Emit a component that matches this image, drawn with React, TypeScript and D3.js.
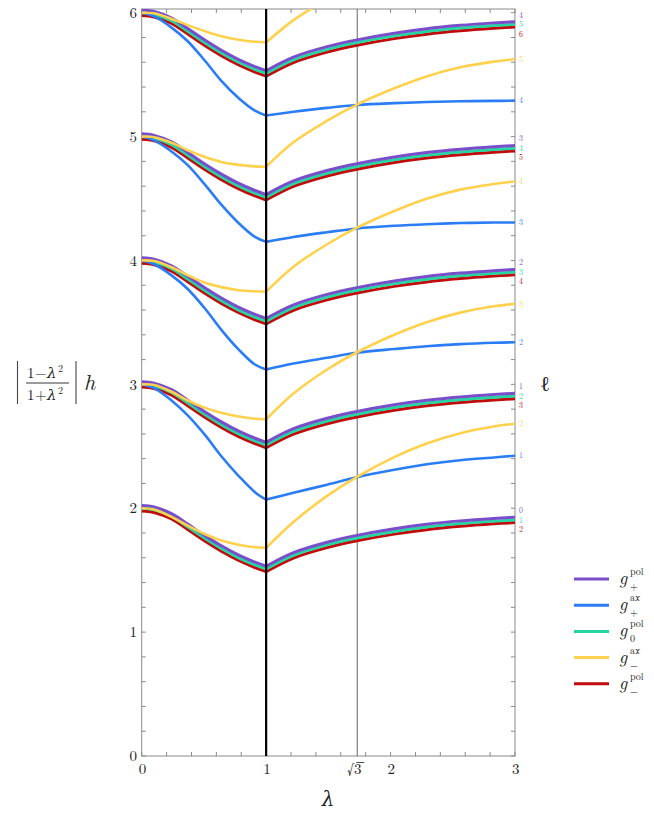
import * as d3 from 'd3'

// sample points in lambda (left branch 0..1, right branch 1..3)
const lamL = [0, 0.1, 0.24, 0.37, 0.51, 0.64, 0.78, 0.91, 1]
const lamR = [1, 1.22, 1.49, 1.73, 2.03, 2.29, 2.56, 2.83, 3]

// g_+^pol (purple), rows: n = 2..6
const gPlusPolL = [
  [2.022, 2.01, 1.957, 1.872, 1.777, 1.697, 1.622, 1.565, 1.532],
  [3.022, 3.01, 2.957, 2.872, 2.777, 2.697, 2.622, 2.565, 2.532],
  [4.022, 4.01, 3.957, 3.872, 3.777, 3.697, 3.622, 3.565, 3.532],
  [5.022, 5.01, 4.957, 4.872, 4.777, 4.697, 4.622, 4.565, 4.532],
  [6.022, 6.01, 5.957, 5.872, 5.777, 5.697, 5.622, 5.565, 5.532],
]
const gPlusPolR = [
  [1.532, 1.642, 1.726, 1.781, 1.835, 1.871, 1.898, 1.918, 1.928],
  [2.532, 2.642, 2.726, 2.781, 2.835, 2.871, 2.898, 2.918, 2.928],
  [3.532, 3.642, 3.726, 3.781, 3.835, 3.871, 3.898, 3.918, 3.928],
  [4.532, 4.642, 4.726, 4.781, 4.835, 4.871, 4.898, 4.918, 4.928],
  [5.532, 5.642, 5.726, 5.781, 5.835, 5.871, 5.898, 5.918, 5.928],
]

// g_0^pol (green)
const g0PolL = [
  [2.0, 1.988, 1.935, 1.85, 1.755, 1.675, 1.6, 1.543, 1.51],
  [3.0, 2.988, 2.935, 2.85, 2.755, 2.675, 2.6, 2.543, 2.51],
  [4.0, 3.988, 3.935, 3.85, 3.755, 3.675, 3.6, 3.543, 3.51],
  [5.0, 4.988, 4.935, 4.85, 4.755, 4.675, 4.6, 4.543, 4.51],
  [6.0, 5.988, 5.935, 5.85, 5.755, 5.675, 5.6, 5.543, 5.51],
]
const g0PolR = [
  [1.51, 1.62, 1.704, 1.759, 1.813, 1.849, 1.876, 1.896, 1.906],
  [2.51, 2.62, 2.704, 2.759, 2.813, 2.849, 2.876, 2.896, 2.906],
  [3.51, 3.62, 3.704, 3.759, 3.813, 3.849, 3.876, 3.896, 3.906],
  [4.51, 4.62, 4.704, 4.759, 4.813, 4.849, 4.876, 4.896, 4.906],
  [5.51, 5.62, 5.704, 5.759, 5.813, 5.849, 5.876, 5.896, 5.906],
]

// g_-^pol (red)
const gMinusPolL = [
  [1.978, 1.966, 1.913, 1.828, 1.733, 1.653, 1.578, 1.521, 1.488],
  [2.978, 2.966, 2.913, 2.828, 2.733, 2.653, 2.578, 2.521, 2.488],
  [3.978, 3.966, 3.913, 3.828, 3.733, 3.653, 3.578, 3.521, 3.488],
  [4.978, 4.966, 4.913, 4.828, 4.733, 4.653, 4.578, 4.521, 4.488],
  [5.978, 5.966, 5.913, 5.828, 5.733, 5.653, 5.578, 5.521, 5.488],
]
const gMinusPolR = [
  [1.488, 1.598, 1.682, 1.737, 1.791, 1.827, 1.854, 1.874, 1.884],
  [2.488, 2.598, 2.682, 2.737, 2.791, 2.827, 2.854, 2.874, 2.884],
  [3.488, 3.598, 3.682, 3.737, 3.791, 3.827, 3.854, 3.874, 3.884],
  [4.488, 4.598, 4.682, 4.737, 4.791, 4.827, 4.854, 4.874, 4.884],
  [5.488, 5.598, 5.682, 5.737, 5.791, 5.827, 5.854, 5.874, 5.884],
]

// g_+^ax (blue), rows: n = 3..6
const gPlusAxL = [
  [3.0, 2.97, 2.87, 2.75, 2.59, 2.42, 2.26, 2.13, 2.07],
  [4.0, 3.97, 3.88, 3.77, 3.61, 3.44, 3.28, 3.16, 3.12],
  [5.0, 4.97, 4.88, 4.77, 4.61, 4.45, 4.3, 4.19, 4.15],
  [6.0, 5.97, 5.88, 5.77, 5.61, 5.45, 5.31, 5.21, 5.17],
]
const gPlusAxR = [
  [2.07, 2.125, 2.19, 2.25, 2.31, 2.355, 2.388, 2.41, 2.424],
  [3.12, 3.168, 3.215, 3.255, 3.285, 3.308, 3.325, 3.336, 3.34],
  [4.15, 4.19, 4.228, 4.258, 4.28, 4.293, 4.302, 4.306, 4.307],
  [5.17, 5.2, 5.232, 5.255, 5.27, 5.279, 5.285, 5.288, 5.29],
]

// g_-^ax (yellow), rows: n = 2..6
const gMinusAxL = [
  [2.0, 1.99, 1.93, 1.86, 1.79, 1.74, 1.705, 1.685, 1.68],
  [3.0, 2.995, 2.94, 2.87, 2.81, 2.77, 2.74, 2.722, 2.717],
  [4.0, 3.995, 3.945, 3.88, 3.82, 3.785, 3.76, 3.751, 3.748],
  [5.0, 4.995, 4.95, 4.89, 4.835, 4.795, 4.772, 4.76, 4.757],
  [6.0, 5.995, 5.95, 5.9, 5.85, 5.81, 5.782, 5.765, 5.76],
]
const gMinusAxR = [
  [1.68, 1.889, 2.1, 2.254, 2.413, 2.522, 2.606, 2.66, 2.682],
  [2.717, 2.926, 3.12, 3.259, 3.4, 3.501, 3.579, 3.63, 3.65],
  [3.748, 3.95, 4.131, 4.265, 4.4, 4.499, 4.572, 4.618, 4.637],
  [4.757, 4.955, 5.128, 5.258, 5.39, 5.486, 5.559, 5.605, 5.624],
  [5.76, 5.94, 6.11, 6.26],
]

// ell labels at the right edge
const purpleLabels = ['0', '1', '2', '3', '4']
const greenLabels = ['1', '2', '3', '4', '5']
const redLabels = ['2', '3', '4', '5', '6']
const blueLabels = ['1', '2', '3', '4']
const yellowLabels = ['2', '3', '4', '5', '']

const yTickLabels = [0, 1, 2, 3, 4, 5, 6]
const xTickLabels = [0, 1, 2, 3]

const C = {
  purple: '#7a4dcb',
  blue: '#2b7df5',
  green: '#25d6a2',
  yellow: '#ffd14d',
  red: '#c20b0b',
}

const legendItems = [
  { color: C.purple, sup: 'pol', sub: '+' },
  { color: C.blue, sup: 'ax', sub: '+' },
  { color: C.green, sup: 'pol', sub: '0' },
  { color: C.yellow, sup: 'ax', sub: '\u2212' },
  { color: C.red, sup: 'pol', sub: '\u2212' },
]

const serif = "'Latin Modern Roman', 'DejaVu Serif', 'Liberation Serif', serif"

export default function App() {
  const x = d3.scaleLinear().domain([0, 3]).range([141.7, 515])
  const y = d3.scaleLinear().domain([0, 6.03]).range([756, 9])
  const [x0, x1] = x.range()
  const [y0, y1] = y.range()

  const line = d3
    .line<[number, number]>()
    .x((d) => x(d[0]))
    .y((d) => y(d[1]))
    .curve(d3.curveCatmullRom.alpha(0.5))

  // left and right branch joined with a sharp corner at lambda = 1
  const branchPath = (left: number[], right: number[]) => {
    const a = line(left.map((v, i) => [lamL[i], v]))!
    const b = line(right.map((v, i) => [lamR[i], v]))!
    return a + b.replace(/^M/, 'L')
  }

  const yTicks = d3.range(0, 6.001, 0.2)
  const xTicks = d3.range(0, 3.001, 0.2)

  const polSets = [
    { L: gMinusPolL, R: gMinusPolR, color: C.red },
    { L: g0PolL, R: g0PolR, color: C.green },
    { L: gPlusPolL, R: gPlusPolR, color: C.purple },
  ]

  const endY = (arr: number[]) => y(arr[arr.length - 1])

  return (
    <svg
      width={654}
      height={814}
      style={{ position: 'absolute', left: 0, top: 0, background: '#fff' }}
      fontFamily={serif}
    >
      <defs>
        <clipPath id="plot">
          <rect x={x0} y={y1} width={x1 - x0} height={y0 - y1} />
        </clipPath>
      </defs>

      {/* frame */}
      <rect x={x0} y={y1} width={x1 - x0} height={y0 - y1} fill="none" stroke="#8a8a8a" strokeWidth={1} />
      {yTicks.map((t, i) => (
        <g key={'yt' + i} stroke="#8a8a8a" strokeWidth={1}>
          <line x1={x0} x2={x0 + 4} y1={y(t)} y2={y(t)} />
          <line x1={x1} x2={x1 - 4} y1={y(t)} y2={y(t)} />
        </g>
      ))}
      {xTicks.map((t, i) => (
        <g key={'xt' + i} stroke="#8a8a8a" strokeWidth={1}>
          <line x1={x(t)} x2={x(t)} y1={y0} y2={y0 - 4} />
          <line x1={x(t)} x2={x(t)} y1={y1} y2={y1 + 4} />
        </g>
      ))}

      {/* vertical guide at sqrt(3) */}
      <line x1={x(Math.sqrt(3))} x2={x(Math.sqrt(3))} y1={y1} y2={y0} stroke="#666" strokeWidth={1} />

      {/* curves */}
      <g clipPath="url(#plot)" fill="none" strokeLinejoin="miter">
        {polSets.map((s) =>
          s.L.map((row, i) => (
            <path key={s.color + i} d={branchPath(row, s.R[i])} stroke={s.color} strokeWidth={3} />
          ))
        )}
        {gPlusAxL.map((row, i) => (
          <path key={'b' + i} d={branchPath(row, gPlusAxR[i])} stroke={C.blue} strokeWidth={2.6} />
        ))}
        {gMinusAxL.map((row, i) => (
          <path key={'yl' + i} d={branchPath(row, gMinusAxR[i])} stroke={C.yellow} strokeWidth={2.6} />
        ))}
      </g>

      <line x1={x(1)} x2={x(1)} y1={y1} y2={y0} stroke="#000" strokeWidth={2.2} />

      {/* y tick labels */}
      {yTickLabels.map((t) => (
        <text key={'yl' + t} x={137} y={y(t)} dy="0.35em" textAnchor="end" fontSize={15} fill="#222">
          {t}
        </text>
      ))}
      {/* x tick labels */}
      {xTickLabels.map((t) => (
        <text key={'xl' + t} x={x(t) + 0.8} y={774} textAnchor="middle" fontSize={15} fill="#222">
          {t}
        </text>
      ))}
      <text x={x(Math.sqrt(3)) - 3} y={774} textAnchor="middle" fontSize={15} fill="#222">
        {'\u221A3'}
      </text>
      <line x1={x(Math.sqrt(3)) - 1} x2={x(Math.sqrt(3)) + 7} y1={762.5} y2={762.5} stroke="#222" strokeWidth={0.8} />

      {/* ell labels */}
      {g0PolR.map((row, i) => (
        <g key={'pl' + i} fontSize={7.8} textAnchor="start">
          <text x={519} y={endY(row) - 9.5} dy="0.35em" fill={C.purple}>{purpleLabels[i]}</text>
          <text x={519} y={endY(row)} dy="0.35em" fill={C.green}>{greenLabels[i]}</text>
          <text x={519} y={endY(row) + 9.5} dy="0.35em" fill={C.red}>{redLabels[i]}</text>
        </g>
      ))}
      {gPlusAxR.map((row, i) => (
        <text key={'bl' + i} x={519} y={endY(row)} dy="0.35em" fontSize={7.8} fill={C.blue}>
          {blueLabels[i]}
        </text>
      ))}
      {gMinusAxR.map((row, i) =>
        yellowLabels[i] ? (
          <text key={'yel' + i} x={519} y={endY(row)} dy="0.35em" fontSize={7.8} fill={C.yellow}>
            {yellowLabels[i]}
          </text>
        ) : null
      )}

      {/* axis titles */}
      <text x={328} y={806} textAnchor="middle" fontSize={20} fontStyle="italic" fill="#222">
        {'\u03BB'}
      </text>
      <text x={545} y={391} textAnchor="middle" fontSize={21} fill="#222">
        {'\u2113'}
      </text>

      {/* |(1-λ²)/(1+λ²)| h */}
      <g fill="#222" fontSize={15}>
        <line x1={17.5} x2={17.5} y1={361} y2={404} stroke="#444" strokeWidth={1.1} />
        <line x1={76} x2={76} y1={361} y2={404} stroke="#444" strokeWidth={1.1} />
        <line x1={26} x2={69} y1={383} y2={383} stroke="#222" strokeWidth={0.9} />
        <text x={27} y={378}>1</text>
        <text x={35} y={378}>{'\u2212'}</text>
        <text x={47} y={378} fontStyle="italic">{'\u03BB'}</text>
        <text x={58} y={372} fontSize={10}>2</text>
        <text x={27} y={400}>1</text>
        <text x={35} y={400}>+</text>
        <text x={47} y={400} fontStyle="italic">{'\u03BB'}</text>
        <text x={58} y={394} fontSize={10}>2</text>
        <text x={84} y={390} fontSize={22} fontStyle="italic">h</text>
      </g>

      {/* legend */}
      {legendItems.map((d, i) => {
        const ly = 579 + i * 26.2
        return (
          <g key={'lg' + i} fill="#222">
            <line x1={574} x2={609} y1={ly} y2={ly} stroke={d.color} strokeWidth={3} />
            <text x={619} y={ly + 5} fontSize={18} fontStyle="italic">g</text>
            <text x={630} y={ly - 4} fontSize={10}>{d.sup}</text>
            <text x={630} y={ly + 11} fontSize={10}>{d.sub}</text>
          </g>
        )
      })}
    </svg>
  )
}
